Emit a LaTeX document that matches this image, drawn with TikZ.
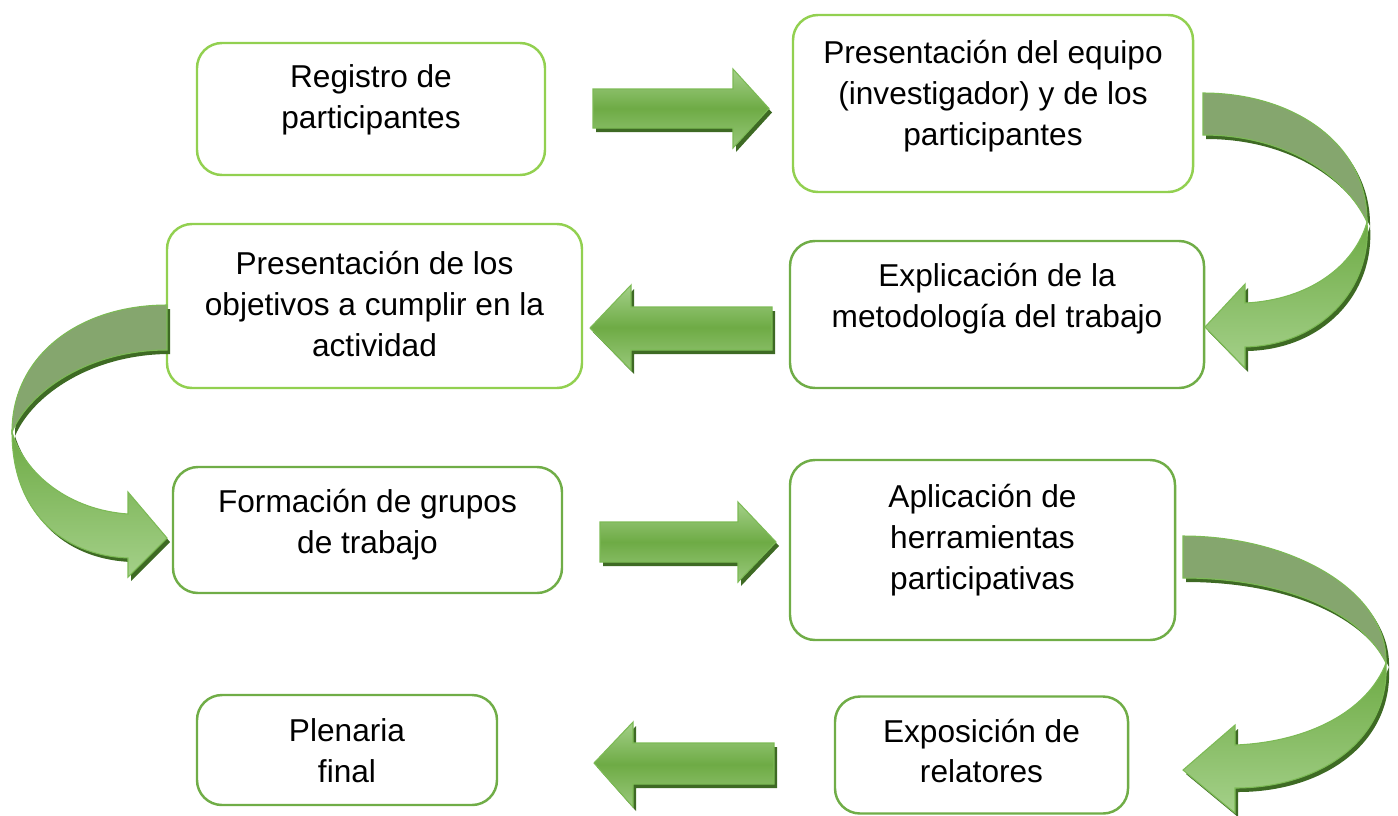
\documentclass[tikz,border=0pt]{standalone}
\usepackage{fontspec}
\setmainfont{Liberation Sans}
\definecolor{lightrim}{HTML}{92D050}
\definecolor{darkrim}{HTML}{70AD47}
\definecolor{arrowmid}{HTML}{6EAB45}
\definecolor{arrowlight}{HTML}{A4D089}
\definecolor{arrowedge}{HTML}{7CBA55}
\definecolor{arrowback}{HTML}{85A66E}
\definecolor{arrowshadow}{HTML}{3E6A24}
\def\pxu{0.02cm}

\begin{document}
\begin{tikzpicture}[x=0.02cm,y=-0.02cm,
    box/.style={draw=#1,line width=1.4pt,rounded corners=0.5cm,fill=white,inner sep=0pt},
    lbl/.style={align=center,font=\fontsize{18}{23.3}\selectfont},
    shadowed/.style={preaction={fill=arrowshadow,transform canvas={xshift=0.06cm,yshift=-0.08cm}}},
    blockarrow/.style={shadowed,draw=arrowedge,line width=0.6pt,
      top color=arrowlight,bottom color=arrowlight!80!arrowmid,middle color=arrowmid},
    backband/.style={shadowed,draw=arrowedge,line width=0.6pt,fill=arrowback},
    frontband/.style={shadowed,draw=arrowedge,line width=0.6pt,
      top color=arrowmid,bottom color=arrowlight}]
    \useasboundingbox (0,0) rectangle (1398,815);

    %boxes
    \node[box=lightrim,minimum width=348*\pxu,minimum height=132*\pxu] (reg) at (371,109) {};
    \node[box=lightrim,minimum width=400*\pxu,minimum height=177*\pxu] (equipo) at (993,103.5) {};
    \node[box=darkrim,minimum width=414*\pxu,minimum height=147*\pxu] (metodo) at (997,314.5) {};
    \node[box=lightrim,minimum width=415*\pxu,minimum height=164*\pxu] (objetivos) at (374.5,306) {};
    \node[box=darkrim,minimum width=389*\pxu,minimum height=126*\pxu] (grupos) at (367.5,530) {};
    \node[box=darkrim,minimum width=385*\pxu,minimum height=180*\pxu] (herram) at (982.5,550) {};
    \node[box=darkrim,minimum width=293*\pxu,minimum height=117*\pxu] (relatores) at (981.5,755) {};
    \node[box=darkrim,minimum width=300*\pxu,minimum height=110*\pxu] (plenaria) at (347,750) {};

    \node[lbl] (reg text) at (reg.center |- 0,100) {Registro de\\participantes};
    \node[lbl] (equipo text) at (equipo.center |- 0,96) {Presentación del equipo\\(investigador) y de los\\participantes};
    \node[lbl] (metodo text) at (metodo.center |- 0,299) {Explicación de la\\metodología del trabajo};
    \node[lbl] (objetivos text) at (objetivos.center |- 0,304) {Presentación de los\\objetivos a cumplir en la\\actividad};
    \node[lbl] (grupos text) at (grupos.center |- 0,525) {Formación de grupos\\de trabajo};
    \node[lbl] (herram text) at (herram.center |- 0,540) {Aplicación de\\herramientas\\participativas};
    \node[lbl] (relatores text) at (relatores.center |- 0,751) {Exposición de\\relatores};
    \node[lbl] (plenaria text) at (plenaria.center |- 0,751) {Plenaria\\final};

    %straight arrows
    \draw[blockarrow] (593,89) -- (733,89) -- (733,69) -- (769,108.5)
                      -- (733,148) -- (733,128) -- (593,128) -- cycle;
    \draw[blockarrow] (772,307) -- (631,307) -- (631,285) -- (590,328)
                      -- (631,370) -- (631,350) -- (772,350) -- cycle;
    \draw[blockarrow] (600,522) -- (738,522) -- (738,502) -- (776,542)
                      -- (738,582) -- (738,562) -- (600,562) -- cycle;
    \draw[blockarrow] (774,743) -- (633,743) -- (633,722) -- (594,763)
                      -- (633,807) -- (633,784) -- (774,784) -- cycle;

    %turning arrows
    \draw[backband] (1203,93) .. controls (1295,93) and (1368,145) .. (1367,222)
                    .. controls (1345,175) and (1285,135) .. (1203,135) -- cycle;
    \draw[frontband] (1367,222) .. controls (1372,290) and (1320,345) .. (1245,347)
                     -- (1245,368) -- (1205,327) -- (1245,284) -- (1245,303)
                     .. controls (1310,300) and (1355,265) .. (1367,222) -- cycle;

    \draw[backband] (167,305) .. controls (80,305) and (12,355) .. (12,432)
                    .. controls (30,390) and (90,350) .. (167,350) -- cycle;
    \draw[frontband] (12,432) .. controls (12,510) and (60,555) .. (128,558)
                     -- (128,577) -- (167,538) -- (128,492) -- (128,514)
                     .. controls (70,510) and (25,475) .. (12,432) -- cycle;

    \draw[backband] (1183,536) .. controls (1290,536) and (1388,590) .. (1386,663)
                    .. controls (1360,610) and (1280,578) .. (1183,578) -- cycle;
    \draw[frontband] (1386,663) .. controls (1390,740) and (1320,788) .. (1235,788)
                     -- (1235,813) -- (1183,770) -- (1235,725) -- (1235,745)
                     .. controls (1310,742) and (1368,710) .. (1386,663) -- cycle;
\end{tikzpicture}
\end{document}
